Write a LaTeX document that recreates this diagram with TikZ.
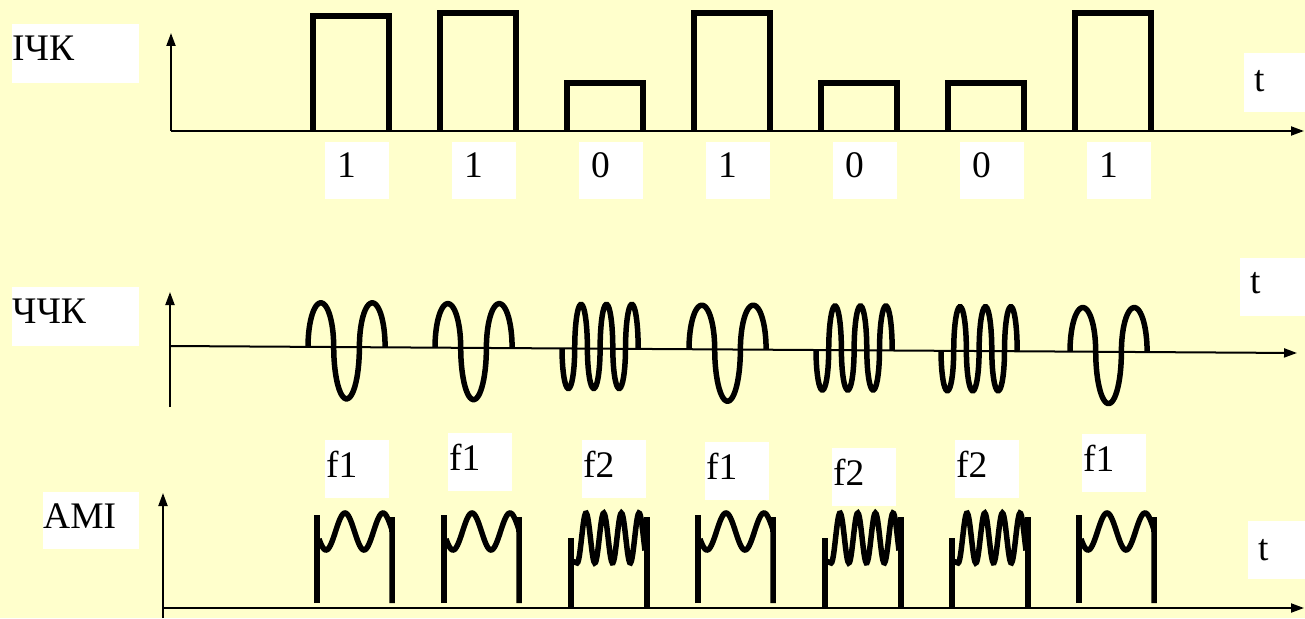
\documentclass[tikz,border=0pt]{standalone}
\usepackage{fontspec}
\setmainfont{Liberation Serif}
\usetikzlibrary{arrows.meta}
\definecolor{bg}{HTML}{FFFFCC}
\tikzset{
  axis/.style={line width=2pt, -{Triangle[length=13pt,width=9pt]}},
  sig/.style={line width=5.5pt, line join=miter, line cap=butt},
  lbl/.style={anchor=base west, inner sep=0pt, font=\fontsize{37.5}{40}\selectfont},
  wbox/.style={fill=white},
}
\begin{document}
\begin{tikzpicture}[x=1pt,y=-1pt]
\fill[bg] (0,0) rectangle (1305,618);
\useasboundingbox (0,0) rectangle (1305,618);

% ---------- row 1 : ICK ----------
\fill[wbox] (12,24) rectangle (139,83);
\node[lbl] (lab1) at (12,60) {ІЧК};
\coordinate (o1) at (171,131);
\coordinate (y1) at (171,33);
\coordinate (x1) at (1304,131);
\draw[axis] (o1) -- (y1);
\draw[axis] (o1) -- (x1);
\foreach \k/\h in {0/16,1/13,2/83,3/13,4/83,5/83,6/13}{
  \draw[sig] ({313+127*\k},131) -- ({313+127*\k},\h) -- ({389+127*\k},\h) -- ({389+127*\k},131);
}
\foreach \k/\b in {0/1,1/1,2/0,3/1,4/0,5/0,6/1}{
  \fill[wbox] ({325+127*\k},142) rectangle ++(64,57);
  \node[lbl] (b\k) at ({337+127*\k},177) {\b};
}
\fill[wbox] (1244,53) rectangle (1305,112);
\node[lbl] (t1) at (1254,91) {t};

% ---------- row 2 : CCK ----------
\fill[wbox] (12,287) rectangle (139,346);
\node[lbl] (lab2) at (12,323) {ЧЧК};
\coordinate (o2) at (170,346);
\coordinate (y2) at (170,292);
\coordinate (b2) at (170,407);
\coordinate (x2) at (1297,353);
\draw[axis] (b2) -- (y2);
\draw[axis] (o2) -- (x2);
% f1 waves
\foreach \xo in {308,435,689,1070}{
  \pgfmathsetmacro\c{346+(\xo-171)*0.0062}
  \foreach \i/\a in {0/-44,1/52,2/-44}{
    \draw[sig] plot[domain=0:180,samples=30] ({\xo+25.7*\i+12.85-12.85*cos(\x)},{\c+\a*sin(\x)});
  }
}
% f2 waves
\foreach \xo in {562,816,941}{
  \pgfmathsetmacro\c{346+(\xo-171)*0.0062}
  \foreach \i/\a in {0/40,1/-44,2/40,3/-44,4/40,5/-44}{
    \draw[sig] plot[domain=0:180,samples=20] ({\xo+12.7*\i+6.35-6.35*cos(\x)},{\c+\a*sin(\x)});
  }
}
\fill[wbox] (1240,258) rectangle (1305,316);
\node[lbl] (t2) at (1250,293) {t};

% ---------- row 3 : AMI ----------
\fill[wbox] (43,492) rectangle (139,549);
\node[lbl] (lab3) at (43,528) {AMI};
\coordinate (o3) at (163,608);
\coordinate (y3) at (163,493);
\coordinate (b3) at (163,618);
\coordinate (x3) at (1304,608);
\draw[axis] (b3) -- (y3);
\draw[axis] (o3) -- (x3);
% f1 AMI pulses
\foreach \xo in {317,444,698,1079}{
  \draw[sig] (\xo,603) -- (\xo,515);
  \draw[sig] plot[domain=2:74,samples=70] ({\xo+\x},{531.5-18.5*cos(9.4737*(\x-28))})
     -- ({\xo+75},530) -- ({\xo+75},603);
  \draw[sig] ({\xo+75},517) -- ({\xo+75},532);
}
% f2 AMI pulses
\foreach \xo in {571,825,952}{
  \draw[sig] (\xo,607) -- (\xo,538);
  \draw[sig] ({\xo+1},561) -- plot[domain=6.15:74,samples=90] ({\xo+\x},{538-25*cos(20.339*(\x-15))});
  \draw[sig] ({\xo+76},517) -- ({\xo+76},607);
}
% frequency labels
\foreach \k/\xl/\yt/\f in {0/325/440/f1,1/448/433/f1,2/582/440/f2,3/705/442/f1,4/832/448/f2,5/955/440/f2,6/1082/434/f1}{
  \fill[wbox] (\xl,\yt) rectangle ++(64,58);
  \node[lbl] (f\k) at ({\xl+1},{\yt+37}) {\f};
}
\fill[wbox] (1248,521) rectangle (1305,579);
\node[lbl] (t3) at (1258,560) {t};
\end{tikzpicture}
\end{document}
